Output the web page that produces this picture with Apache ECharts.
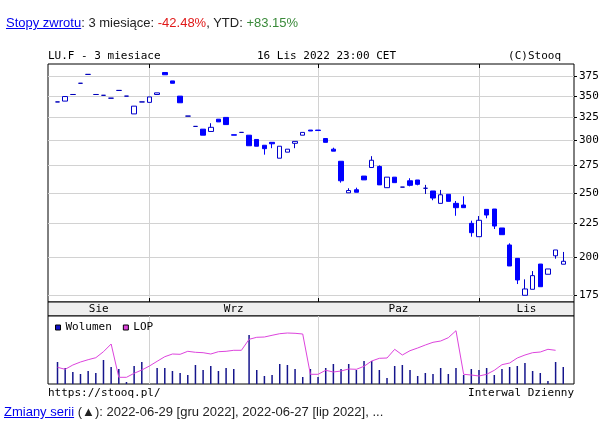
<!DOCTYPE html>
<html>
<head>
<meta charset="utf-8">
<script src="https://cdn.jsdelivr.net/npm/echarts@6/dist/echarts.min.js"></script>
<style>
html,body{margin:0;padding:0;background:#fff;}
#wrap{position:relative;width:615px;height:431px;overflow:hidden;}
#chart{position:absolute;left:0;top:0;width:615px;height:431px;}
.txt{position:absolute;font-family:'Liberation Sans',Arial,sans-serif;font-size:13px;line-height:15px;color:#222;white-space:nowrap;z-index:2;}
.txt a{color:#0000ee;text-decoration:underline;}
</style>
</head>
<body>
<div id="wrap">
<div id="chart"></div>
<div class="txt" style="left:6px;top:15px;"><a>Stopy zwrotu</a>: 3 miesiące: <span style="color:#e01818">-42.48%</span>, YTD: <span style="color:#3a8a3a">+83.15%</span></div>
<div class="txt" style="left:4px;top:404px;"><a>Zmiany serii</a> (▲): 2022-06-29 [gru 2022], 2022-06-27 [lip 2022], ...</div>
</div>
<script>
// ---- data ----
const dates = [
 '2022-08-16','2022-08-17','2022-08-18','2022-08-19','2022-08-22','2022-08-23','2022-08-24','2022-08-25','2022-08-26','2022-08-29','2022-08-30','2022-08-31',
 '2022-09-01','2022-09-02','2022-09-05','2022-09-06','2022-09-07','2022-09-08','2022-09-09','2022-09-12','2022-09-13','2022-09-14','2022-09-15','2022-09-16',
 '2022-09-19','2022-09-20','2022-09-21','2022-09-22','2022-09-23','2022-09-26','2022-09-27','2022-09-28','2022-09-29','2022-09-30',
 '2022-10-03','2022-10-04','2022-10-05','2022-10-06','2022-10-07','2022-10-10','2022-10-11','2022-10-12','2022-10-13','2022-10-14',
 '2022-10-17','2022-10-18','2022-10-19','2022-10-20','2022-10-21','2022-10-24','2022-10-25','2022-10-26','2022-10-27','2022-10-28','2022-10-31',
 '2022-11-01','2022-11-02','2022-11-03','2022-11-04','2022-11-07','2022-11-08','2022-11-09','2022-11-10','2022-11-11','2022-11-14','2022-11-15','2022-11-16'
];
const opens = [
 343,344,352,366,377.5,352,351,347.5,357,350,329,343,
 342.5,352,380,369,350,326.5,315,312,309.5,323,325,306,
 308.5,305.5,301,295,298,282,288,297,305.5,311,
 311,302,291,279,250,252.7,265,273,274,254.5,
 264,255,260.7,261.4,254,251.6,241,248.7,241,239.6,224.8,
 214.6,236,236.3,221.2,208.5,199,175,178.7,195.1,188.3,200.8,195
];
const closes = [
 343,349.5,352,366,377.5,352,351,347.5,357,350,338,343,
 349,354,377,366,342,326.5,315,305.5,314,320,317,305.5,
 308.5,294.5,294,291.5,296.5,294,291,299,308.5,310,
 310.5,298,289,260.7,252,250.5,261.5,280,257,264,
 259,255,256.6,257.5,254,245.5,248.3,242.7,237.4,237.4,217.6,
 227.2,231.4,222.7,216.1,193.8,184.6,178.9,187.4,180.3,191.8,204.9,197
];
const lows = [
 343,344,352,366,377.5,352,351,347.5,357,350,329,343,
 342.5,352,377,366,342,326.5,315,305.5,309.5,320,317,305.5,
 308.5,294.5,294,285.5,292,282,288,292,305.5,310,
 310.5,298,289,259,250,250.5,261.5,273,257,254.5,
 259,255,255.7,256.6,249,243.6,241,242.7,230.8,237.4,214.6,
 214.6,228.8,220.4,216.1,193.8,182,175,178.7,180.3,188.3,198.8,195
];
const highs = [
 343,349.5,352,366,377.5,352,351,347.5,357,350,338,343,
 349,354,380,369,350,326.5,315,312,318.5,323,325,306,
 308.5,305.5,301,295,298,294,291,299,308.5,311,
 311,302,292.5,279,254,254.5,265,284,275,264,
 264,255,263,261.4,257,251.6,252.5,248.7,243,247,226.9,
 230.6,236,236.3,221.2,209.7,199,185,190.4,195.1,191.8,204.9,203.5
];
const volumes = [
 2200,1600,1200,1000,1300,1100,2400,1700,1500,200,1800,2200,
 0,1600,1600,1300,1100,900,1900,1400,1800,1300,1600,1500,
 0,4900,1400,800,900,2000,1900,1500,700,1500,
 700,1600,2000,1500,2000,1400,2300,2300,1400,600,
 1800,1900,1400,800,1100,1000,1600,1000,1600,900,1500,
 1400,1600,900,1500,1700,1800,2100,1300,1100,300,2200,1700
];
const openInterest = [
 334,294,380,440,486,526,646,800,134,134,214,280,
 360,454,546,600,594,654,634,626,600,646,654,674,
 674,894,934,940,974,1006,1020,1014,1000,194,
 194,274,240,260,300,294,354,460,514,520,
 694,580,666,720,780,834,860,926,1066,194,180,
 160,194,274,386,420,520,580,626,640,694,674,null
];
const priceTicks = [175,200,225,250,275,300,325,350,375];
const monthNames = ['Sie','Wrz','Paz','Lis'];

// ---- layout helpers ----
const xMin = -1.24, xMax = 67.4;
const priceMin = 170.97, priceMax = 391.4;
const monoFont = "'DejaVu Sans Mono', 'Liberation Mono', monospace";

const monthStarts = [];
for (let i = 1; i < dates.length; i++) {
  if (dates[i].slice(5,7) !== dates[i-1].slice(5,7)) monthStarts.push(i);
}
const bounds = [xMin].concat(monthStarts, [xMax]);
const monthCenters = [];
for (let i = 0; i < bounds.length - 1; i++) monthCenters.push((bounds[i] + bounds[i+1]) / 2);

const candleData = dates.map((d, i) => [i, Math.log(opens[i]), Math.log(closes[i]), Math.log(lows[i]), Math.log(highs[i])]);
const volData = dates.map((d, i) => [i, volumes[i]]);
const lopData = dates.map((d, i) => [i, openInterest[i]]);

const gridCol = '#d2d2d2';
const noZero = {show: false, onZero: false};
const chart = echarts.init(document.getElementById('chart'), null, {renderer: 'canvas'});
const option = {
  animation: false,
  backgroundColor: '#fff',
  textStyle: {fontFamily: monoFont},
  grid: [
    {left: 48, top: 64, width: 526, height: 238, show: true, borderColor: '#000', borderWidth: 1, backgroundColor: '#fff', containLabel: false, outerBoundsMode: 'none'},
    {left: 48, top: 302, width: 526, height: 14, show: true, borderColor: '#000', borderWidth: 1, backgroundColor: '#eeeeee', containLabel: false, outerBoundsMode: 'none'},
    {left: 48, top: 316, width: 526, height: 68, show: true, borderColor: '#000', borderWidth: 1, backgroundColor: '#fff', containLabel: false, outerBoundsMode: 'none'}
  ],
  legend: {
    left: 50, top: 317, itemWidth: 5, itemHeight: 5, itemGap: 11,
    selectedMode: false,
    itemStyle: {borderColor: '#000', borderWidth: 1},
    textStyle: {fontFamily: monoFont, fontSize: 11, color: '#000'},
    data: [
      {name: 'Wolumen', icon: 'rect', itemStyle: {color: '#1010c8', borderColor: '#000', borderWidth: 1}},
      {name: 'LOP', icon: 'rect', itemStyle: {color: '#dd44dd', borderColor: '#000', borderWidth: 1}}
    ]
  },
  graphic: [
    {type: 'text', left: 48, top: 51, style: {text: 'LU.F - 3 miesiace', font: '11px ' + monoFont, fill: '#000'}},
    {type: 'text', left: 257, top: 51, style: {text: '16 Lis 2022 23:00 CET', font: '11px ' + monoFont, fill: '#000'}},
    {type: 'text', right: 54, top: 51, style: {text: '(C)Stooq', font: '11px ' + monoFont, fill: '#000'}},
    {type: 'text', left: 48, top: 388, style: {text: 'https://stooq.pl/', font: '11px ' + monoFont, fill: '#000'}},
    {type: 'text', right: 41, top: 388, style: {text: 'Interwal Dzienny', font: '11px ' + monoFont, fill: '#000'}}
  ],
  xAxis: [
    {gridIndex: 0, type: 'value', min: xMin, max: xMax,
      axisLine: noZero,
      axisTick: {show: true, inside: true, length: 4, customValues: monthStarts, lineStyle: {color: '#000'}},
      axisLabel: {show: false},
      splitLine: {show: true, lineStyle: {color: gridCol, width: 1}}},
    {gridIndex: 0, type: 'value', position: 'top', min: xMin, max: xMax,
      axisLine: noZero,
      axisTick: {show: true, inside: true, length: 4, customValues: monthStarts, lineStyle: {color: '#000'}},
      axisLabel: {show: false}, splitLine: {show: false}},
    {gridIndex: 1, type: 'value', position: 'top', min: xMin, max: xMax,
      axisLine: noZero, axisTick: {show: false}, splitLine: {show: false},
      axisLabel: {show: true, inside: true, margin: 2, customValues: monthCenters,
        fontFamily: monoFont, fontSize: 11, color: '#000',
        formatter: function (v) {
          let best = 0;
          for (let k = 0; k < monthCenters.length; k++) if (Math.abs(monthCenters[k] - v) < Math.abs(monthCenters[best] - v)) best = k;
          return monthNames[best];
        }}},
    {gridIndex: 2, type: 'value', min: xMin, max: xMax,
      axisLine: noZero,
      axisTick: {show: false, customValues: monthStarts},
      axisLabel: {show: false},
      splitLine: {show: true, lineStyle: {color: gridCol, width: 1}}}
  ],
  yAxis: [
    {gridIndex: 0, type: 'value', position: 'right', min: Math.log(priceMin), max: Math.log(priceMax),
      axisLine: noZero,
      axisTick: {show: true, length: 3, customValues: priceTicks.map(Math.log), lineStyle: {color: '#000'}},
      axisLabel: {show: true, margin: 5, customValues: priceTicks.map(Math.log), fontFamily: monoFont, fontSize: 11, color: '#000',
        formatter: function (v) { return String(Math.round(Math.exp(v))); }},
      splitLine: {show: true, lineStyle: {color: gridCol, width: 1}}},
    {gridIndex: 1, type: 'value', show: false, min: 0, max: 1, axisLine: noZero},
    {gridIndex: 2, type: 'value', show: false, min: 0, max: 6800, splitLine: {show: false}, axisLine: noZero},
    {gridIndex: 2, type: 'value', show: false, min: 0, max: 1360, splitLine: {show: false}, axisLine: noZero}
  ],
  series: [
    {type: 'candlestick', name: 'LU.F', xAxisIndex: 0, yAxisIndex: 0, data: candleData,
      barWidth: 5,
      itemStyle: {color: '#ffffff', color0: '#0000ff', borderColor: '#0000cc', borderColor0: '#0000ff', borderColorDoji: '#0000bb', borderWidth: 1},
      emphasis: {disabled: true}},
    {type: 'bar', name: 'Wolumen', xAxisIndex: 3, yAxisIndex: 2, data: volData, barWidth: 1.5,
      itemStyle: {color: '#15158c'}, emphasis: {disabled: true}},
    {type: 'line', name: 'LOP', xAxisIndex: 3, yAxisIndex: 3, data: lopData, symbol: 'none', showSymbol: false,
      connectNulls: false, lineStyle: {color: '#dd44dd', width: 1}, itemStyle: {color: '#dd44dd'}, emphasis: {disabled: true}}
  ]
};
chart.setOption(option);
</script>
</body>
</html>
